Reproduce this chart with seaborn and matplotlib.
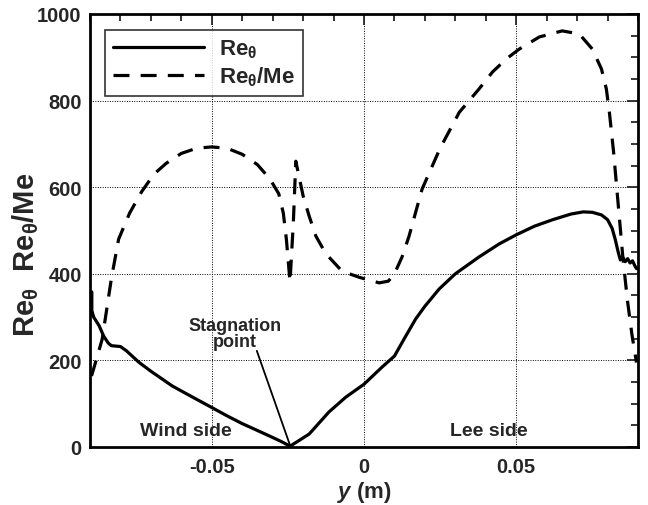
import numpy as np
import pandas as pd
import matplotlib
matplotlib.use("Agg")
import matplotlib.pyplot as plt
from matplotlib.ticker import MultipleLocator, FixedLocator, FixedFormatter
from matplotlib.lines import Line2D
import seaborn as sns

# ---- data ----
y_re = [-0.0894, -0.0894, -0.0888, -0.0870, -0.0855, -0.0840, -0.0830, -0.0800, -0.0780,
        -0.0740, -0.0700, -0.0630, -0.0560, -0.0510, -0.0450, -0.0400, -0.0356, -0.0300,
        -0.0270, -0.0243, -0.0220, -0.0180, -0.0115, -0.0060, 0.0000, 0.0060, 0.0100,
        0.0137, 0.0170, 0.0200, 0.0247, 0.0300, 0.0378, 0.0444, 0.0500, 0.0560, 0.0620,
        0.0680, 0.0720, 0.0750, 0.0780, 0.0800, 0.0815, 0.0825, 0.0835, 0.0842, 0.0850,
        0.0858, 0.0866, 0.0874, 0.0882, 0.0890, 0.0895]
re_theta = [358, 315, 300, 280, 256, 240, 234, 232, 222,
            196, 175, 141, 114, 95, 72, 54, 40, 22,
            12, 2, 12, 30, 81, 115, 145, 185, 210,
            256, 296, 325, 365, 400, 439, 469, 490, 510, 525,
            538, 543, 542, 536, 525, 505, 480, 450, 432, 438,
            428, 435, 425, 430, 418, 412]

y_rem = [-0.0895, -0.0880, -0.0860, -0.0830, -0.0806, -0.0770, -0.0730, -0.0690,
         -0.0650, -0.0600, -0.0550, -0.0500, -0.0450, -0.0400, -0.0350, -0.0310,
         -0.0280, -0.0265, -0.0255, -0.0243, -0.0232, -0.0224, -0.0200, -0.0180,
         -0.0158, -0.0125, -0.0072, -0.0016, 0.0050, 0.0080, 0.0100, 0.0125, 0.0148,
         0.0170, 0.0191, 0.0250, 0.0313, 0.0378, 0.0422, 0.0467, 0.0510, 0.0576,
         0.0651, 0.0707, 0.0750, 0.0780, 0.0796, 0.0806, 0.0820, 0.0835, 0.0850,
         0.0865, 0.0880, 0.0895]
re_theta_me = [164, 200, 249, 388, 480, 540, 590, 630,
               655, 678, 690, 693, 690, 676, 652, 620,
               585, 540, 480, 381, 520, 660, 580, 533,
               487, 446, 406, 392, 379, 383, 400, 439, 487,
               543, 596, 690, 773, 827, 866, 896, 919, 947,
               961, 954, 919, 873, 827, 773, 680, 560, 440,
               340, 260, 195]

x_ticks = [-0.05, 0.0, 0.05]
x_tick_labels = ["-0.05", "0", "0.05"]
y_ticks = [0, 200, 400, 600, 800, 1000]
series_names = [r"Re$_\mathrm{\theta}$", r"Re$_\mathrm{\theta}$/Me"]

df = pd.concat([
    pd.DataFrame({"y": y_re, "val": re_theta, "series": series_names[0]}),
    pd.DataFrame({"y": y_rem, "val": re_theta_me, "series": series_names[1]}),
], ignore_index=True)

sns.set_style("white")
plt.rcParams["font.family"] = ["Liberation Sans", "DejaVu Sans"]
plt.rcParams["font.weight"] = "bold"
plt.rcParams["mathtext.fontset"] = "custom"
plt.rcParams["mathtext.rm"] = "Liberation Sans:bold"
plt.rcParams["mathtext.it"] = "Liberation Sans:italic:bold"
plt.rcParams["mathtext.bf"] = "Liberation Sans:bold"

fig = plt.figure(figsize=(6.48, 5.06), dpi=100)
ax = fig.add_axes([90/648, 1-448/506, (638-90)/648, (448-15)/506])

sns.lineplot(data=df, x="y", y="val", style="series", units="series", estimator=None,
             sort=False, color="black", linewidth=2.3,
             dashes={series_names[0]: "", series_names[1]: (5, 3.5)},
             legend=False, ax=ax)

ax.set_xlim(-0.09, 0.09)
ax.set_ylim(0, 1000)
ax.xaxis.set_major_locator(FixedLocator(x_ticks))
ax.xaxis.set_major_formatter(FixedFormatter(x_tick_labels))
ax.xaxis.set_minor_locator(MultipleLocator(0.01))
ax.yaxis.set_major_locator(FixedLocator(y_ticks))
ax.yaxis.set_minor_locator(MultipleLocator(50))
ax.tick_params(which="both", direction="in", top=True, right=True, width=1.3)
ax.tick_params(which="major", length=8, labelsize=14.5)
ax.tick_params(axis="x", which="major", pad=7)
ax.tick_params(axis="y", which="major", pad=6)
ax.tick_params(which="minor", length=5)
for lab in ax.get_xticklabels() + ax.get_yticklabels():
    lab.set_fontweight("bold")
for s in ax.spines.values():
    s.set_linewidth(2)
    s.set_color("black")
ax.grid(True, which="major", linestyle=(0, (1, 1.5)), color="black", linewidth=0.7)

ax.set_xlabel(r"$y$ (m)", fontsize=16, fontweight="bold")
ax.xaxis.set_label_coords(0.5, -0.074)
ax.set_ylabel(r"Re$_\mathrm{\theta}$  Re$_\mathrm{\theta}$/Me", fontsize=21, fontweight="bold")
ax.yaxis.set_label_coords(-0.118, 0.445)
ax.yaxis.label.set_va("center")

handles = [Line2D([], [], color="black", lw=2.3),
           Line2D([], [], color="black", lw=2.3, dashes=(5, 3.5))]
leg = ax.legend(handles, series_names, loc="upper left", bbox_to_anchor=(0.027, 0.964),
                fontsize=16, handlelength=4.1, frameon=True, fancybox=False,
                borderpad=0.35, labelspacing=0.2, handletextpad=0.7, borderaxespad=0)
leg.get_frame().set_edgecolor("black")
leg.get_frame().set_linewidth(1.2)
for t in leg.get_texts():
    t.set_fontweight("bold")

ax.text(-0.0586, 37, "Wind side", fontsize=14, fontweight="bold", ha="center", va="center")
ax.text(0.041, 37, "Lee side", fontsize=14, fontweight="bold", ha="center", va="center")
ax.text(-0.0423, 262, "Stagnation\npoint", fontsize=13, fontweight="bold", ha="center",
        va="center", linespacing=0.95)
ax.annotate("", xy=(-0.0243, 4), xytext=(-0.0352, 222),
            arrowprops=dict(arrowstyle="-", color="black", lw=1.3, shrinkA=0, shrinkB=0))

fig.savefig("out.png", dpi=100)
